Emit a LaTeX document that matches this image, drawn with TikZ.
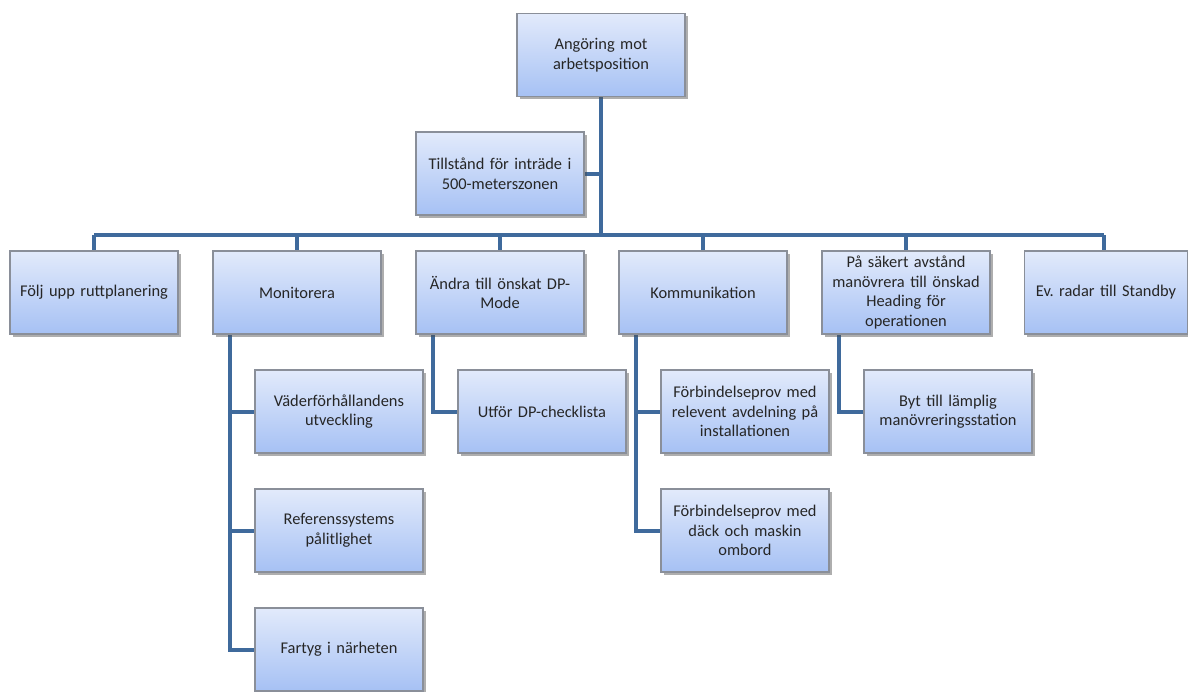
\documentclass[tikz,border=0pt]{standalone}
\usepackage{fontspec}
\setmainfont{Carlito}
\usetikzlibrary{shadows,backgrounds}
\definecolor{lineblue}{HTML}{3F6A9C}
\definecolor{boxtop}{HTML}{E2EAFB}
\definecolor{boxbot}{HTML}{A6C1F4}
\definecolor{boxedge}{HTML}{8A8F99}
\tikzset{
  box/.style={draw=boxedge, line width=1.2pt, top color=boxtop, bottom color=boxbot,
    minimum width=168pt, minimum height=83pt, text width=162pt, align=center,
    inner sep=2pt, font=\fontsize{16.4}{19.5}\selectfont, text=black!85,
    drop shadow={shadow xshift=2.5pt, shadow yshift=-2.5pt, opacity=0.45, fill=black!70}},
  conn/.style={draw=lineblue, line width=4pt}
}
\begin{document}
\begin{tikzpicture}[x=1pt,y=-1pt]
\useasboundingbox (0,0) rectangle (1188,691);
\node[box] (top) at (601,55) {Angöring mot\\arbetsposition};
\node[box] (till) at (500,173.5) {Tillstånd för inträde i\\500-meterszonen};
\node[box] (a) at (94,292.5) {Följ upp ruttplanering};
\node[box] (b) at (297,292.5) {Monitorera};
\node[box] (c) at (500,292.5) {Ändra till önskat DP-\\Mode};
\node[box] (d) at (703,292.5) {Kommunikation};
\node[box] (e) at (906,292.5) {På säkert avstånd\\manövrera till önskad\\Heading för\\operationen};
\node[box, minimum width=163pt, text width=158pt] (f) at (1106,292.5) {Ev.\ radar till Standby};
\node[box] (b1) at (339,411.5) {Väderförhållandens\\utveckling};
\node[box] (b2) at (339,530.5) {Referenssystems\\pålitlighet};
\node[box] (b3) at (339,649.5) {Fartyg i närheten};
\node[box] (c1) at (542,411.5) {Utför DP-checklista};
\node[box] (d1) at (745,411.5) {Förbindelseprov med\\relevent avdelning på\\installationen};
\node[box] (d2) at (745,530.5) {Förbindelseprov med\\däck och maskin\\ombord};
\node[box] (e1) at (948,411.5) {Byt till lämplig\\manövreringsstation};
\coordinate (bus) at (0,235);
\begin{scope}[on background layer]
\fill[white] (0,0) rectangle (1188,691);
\draw[conn] (top.south) -- (top.south |- bus);
\draw[conn] (till.east) -- (till.east -| top.south);
\draw[conn] (a.north |- bus) -- ([xshift=-2pt]f.north |- bus);
\foreach \n in {a,b,c,d,e} \draw[conn] (\n.north |- bus) -- (\n.north);
\draw[conn] ([xshift=-2pt]f.north |- bus) -- ([xshift=-2pt]f.north);
\draw[conn] ([xshift=18pt]b.south west) |- (b1.west);
\draw[conn] ([xshift=18pt]b.south west) |- (b2.west);
\draw[conn] ([xshift=18pt]b.south west) |- (b3.west);
\draw[conn] ([xshift=18pt]c.south west) |- (c1.west);
\draw[conn] ([xshift=18pt]d.south west) |- (d1.west);
\draw[conn] ([xshift=18pt]d.south west) |- (d2.west);
\draw[conn] ([xshift=18pt]e.south west) |- (e1.west);
\end{scope}
\end{tikzpicture}
\end{document}
